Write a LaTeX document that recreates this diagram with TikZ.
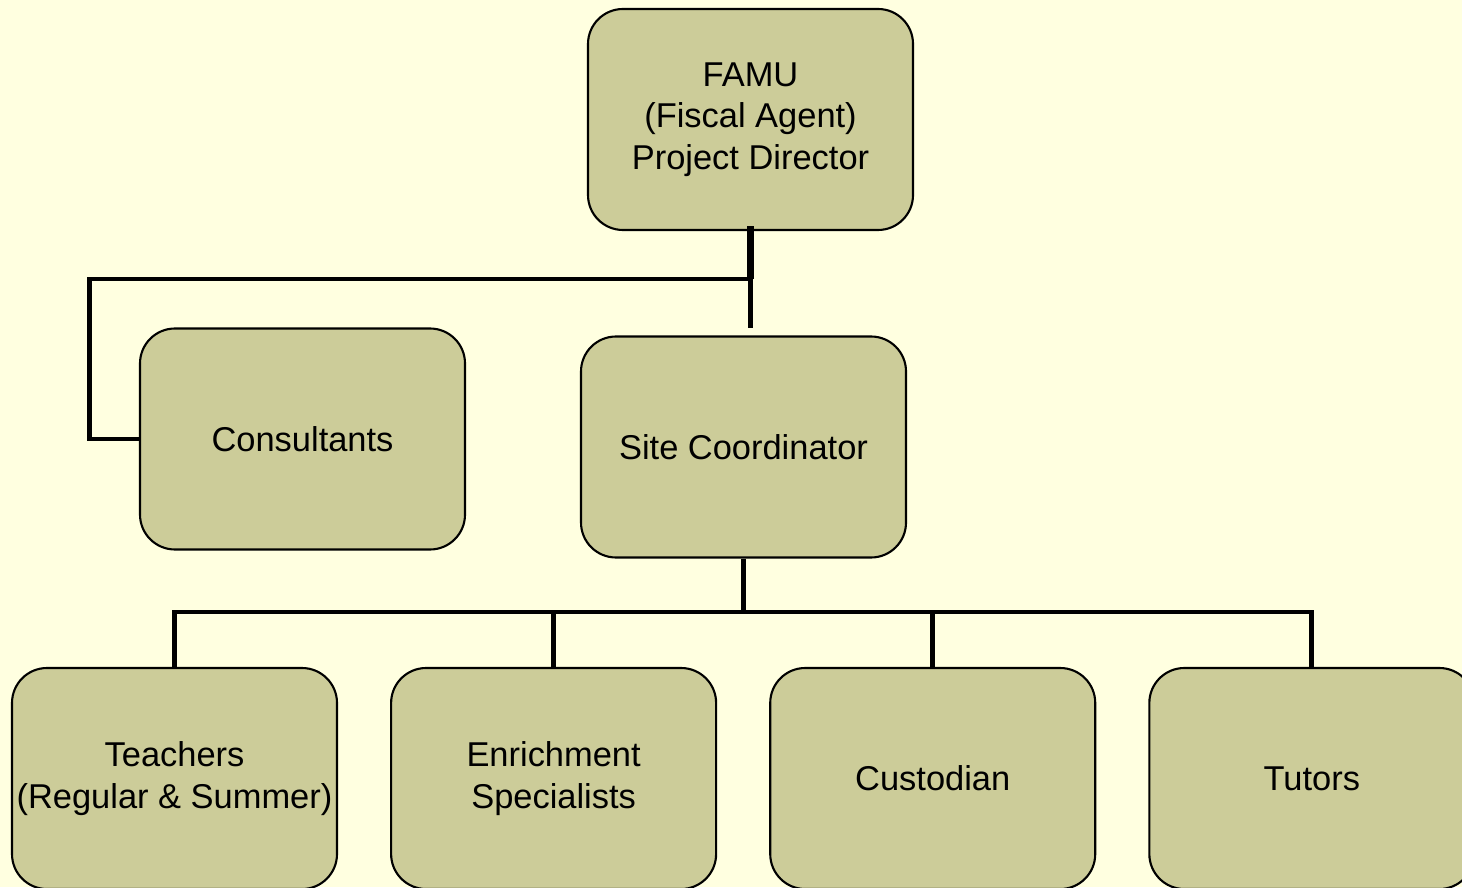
\documentclass[tikz,border=0pt]{standalone}
\usepackage{fontspec}
\setmainfont{Liberation Sans}
\usetikzlibrary{positioning, calc}

\definecolor{paper}{RGB}{255,255,224}
\definecolor{olive}{RGB}{204,204,153}

\begin{document}
\begin{tikzpicture}[
    font=\fontsize{9.8pt}{11.8pt}\selectfont,
    line width=0.6pt,
    box/.style={
      rectangle,
      draw,
      rounded corners=0.35cm,
      align=center,
      fill=olive,
      line width=0.6pt,
      minimum width=3.25cm,
      minimum height=2.21cm,
      inner sep=0pt
    },
    link/.style={
      line width=1.4pt
    }
]

% background and page size
\fill[paper] (0,0) rectangle (14.62,-8.87);
\useasboundingbox (0,0) rectangle (14.62,-8.87);

% 1. NODES
\node[box] (famu) at (7.505,-1.195) {FAMU\\(Fiscal Agent)\\Project Director};
\node[box] (consult) at (3.025,-4.39) {Consultants};
\node[box] (site) at (7.435,-4.47) {Site Coordinator};

\node[box] (teachers) at (1.745,-7.785) {Teachers\\(Regular \& Summer)};
\node[box, right=0.52cm of teachers] (enrich) {Enrichment\\Specialists};
\node[box, right=0.52cm of enrich] (custod) {Custodian};
\node[box, right=0.52cm of custod] (tutors) {Tutors};

% 2. CONNECTORS
\coordinate (hub) at (famu.south |- 0,-2.79);
\coordinate (stub) at ($(hub)+(0,-0.49)$);
\coordinate (bend) at ($(consult.west)+(-0.49,0)$);
\coordinate (bus) at (site.south |- 0,-6.12);

\draw[link, line width=2pt] ($(famu.south)+(0,0.05)$) -- (hub);
\draw[link] (consult.west) -- (bend) |- (hub);
\draw[link] (hub) -- (stub);

% Site Coordinator down to the four staff boxes
\draw[link] (site.south) -- (bus);
\foreach \n in {teachers, enrich, custod, tutors}
  \draw[link] (bus) -| (\n.north);

\end{tikzpicture}
\end{document}
